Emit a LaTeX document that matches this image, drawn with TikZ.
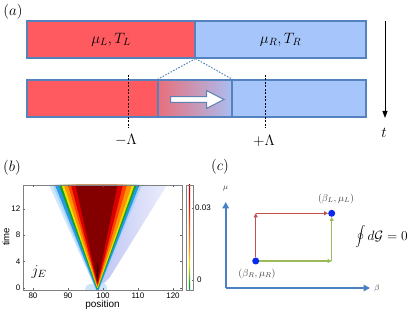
\RequirePackage{fix-cm}
\documentclass[tikz,border=0pt]{standalone}
\usepackage{fontspec}
\newfontfamily\hv{Liberation Sans}
\usetikzlibrary{arrows.meta}
\definecolor{barred}{HTML}{FF5A60}
\definecolor{barblue}{HTML}{A6C5FA}
\definecolor{barline}{HTML}{5482BE}
\definecolor{gradL}{HTML}{E8707C}
\definecolor{gradR}{HTML}{A9BDF0}
\definecolor{axblue}{HTML}{4A80C4}
\definecolor{pred}{HTML}{C0504D}
\definecolor{pgreen}{HTML}{9BBB59}
\definecolor{dotblue}{HTML}{0A2AF0}
\definecolor{jA}{HTML}{2828F0}
\definecolor{jB}{HTML}{C4CAF8}
\definecolor{jC}{HTML}{FFFFFF}
\definecolor{jD}{HTML}{A8D4F8}
\definecolor{jE}{HTML}{2A98E4}
\definecolor{jF}{HTML}{10A028}
\definecolor{jG}{HTML}{ECE000}
\definecolor{jH}{HTML}{FF9200}
\definecolor{jI}{HTML}{FF4200}
\definecolor{jJ}{HTML}{D80000}
\definecolor{jK}{HTML}{840000}
\definecolor{jL}{HTML}{200000}
\definecolor{lav}{HTML}{BFC6F4}
\pgfdeclareverticalshading{jetbar}{8pt}{color(0pt)=(jA); color(5pt)=(jB); color(9pt)=(jC); color(13pt)=(jD); color(20pt)=(jE); color(30pt)=(jF); color(40pt)=(jG); color(47pt)=(jH); color(60pt)=(jI); color(72pt)=(jJ); color(86pt)=(jK); color(105pt)=(jL)}
\tikzset{
  bar/.style={draw=barline, line width=1.1pt, inner sep=0pt, minimum height=37pt, font=\fontsize{15}{17}\selectfont},
  big/.style={font=\fontsize{15}{17}\selectfont, inner sep=0pt},
  tick/.style={font=\hv\fontsize{8}{9}\selectfont, inner sep=0pt},
  vdash/.style={black, line width=0.8pt, dash pattern=on 2pt off 1.5pt},
  axisc/.style={axblue, line width=1.8pt, -{Triangle[length=6.5pt,width=6.5pt]}},
  pathr/.style={pred, line width=1.3pt, -{Triangle[length=4pt,width=4pt]}},
  pathg/.style={pgreen, line width=1.3pt, -{Triangle[length=4pt,width=4pt]}},
  pdot/.style={circle, fill=dotblue, inner sep=0pt, minimum size=7pt},
  small/.style={font=\fontsize{10}{12}\selectfont, text=black!75, inner sep=0pt}
}
\begin{document}
\begin{tikzpicture}[x=1pt,y=-1pt]
\useasboundingbox (0,0) rectangle (415,312);
% ---------- panel (a)
\node[big] (la) at (13,12) {$(a)$};
\node[bar, fill=barred, minimum width=168pt] (tl) at (111,39.5) {$\mu_L,T_L$};
\node[bar, fill=barblue, minimum width=171pt] (tr) at (280.5,39.5) {$\mu_R,T_R$};
\node[bar, fill=barred, minimum width=131pt] (bl) at (92.5,98.5) {};
\node[bar, fill=barblue, minimum width=134pt] (br) at (299,98.5) {};
\node[bar, left color=gradL, right color=gradR, minimum width=74pt] (bm) at (195,98.5) {};
\draw[barline, line width=1pt, dash pattern=on 1.5pt off 1.5pt] (tl.south east) -- (bm.north west);
\draw[barline, line width=1pt, dash pattern=on 1.5pt off 1.5pt] (tl.south east) -- (bm.north east);
\draw[fill=white, draw=barline!80!gray, line width=1pt, line join=miter]
  (170.7,96.7) -- (206.7,96.7) -- (206.7,90.7) -- (224,99.5) -- (206.7,108.3) -- (206.7,102.3) -- (170.7,102.3) -- cycle;
\coordinate (dlt) at (128,75);
\coordinate (dlb) at (128,128);
\coordinate (drt) at (265,75);
\coordinate (drb) at (265,128);
\draw[vdash] (dlt) -- (dlb);
\draw[vdash] (drt) -- (drb);
\node[big] (lm) at (126,140) {$-\Lambda$};
\node[big] (lp) at (264,141) {$+\Lambda$};
\coordinate (ts) at (385,21);
\coordinate (te) at (385,118);
\draw[line width=1pt, -{Triangle[length=7pt,width=5pt]}] (ts) -- (te);
\node[big] (lt) at (384,133) {$t$};
% ---------- panel (b)
\node[big] (lb) at (12,168) {$(b)$};
\begin{scope}
\clip (23,185) rectangle (182,290);
\shade[left color=lav, right color=lav!30] (100,287) -- (141,185) -- (167,185) -- (110,277) -- cycle;
\fill[jD!55] (96,290) -- (49,185) -- (58,185) -- (98,290) -- cycle;
\fill[jD!60] (91,289) ellipse [x radius=6pt, y radius=5pt];
\fill[jD!60] (103,288) ellipse [x radius=4pt, y radius=5pt];
\fill[jD] (96,290) -- (52.5,185) -- (142,185) -- (99,290) -- cycle;
\fill[jE] (96.5,290) -- (55,185) -- (139.5,185) -- (98.5,290) -- cycle;
\fill[jF] (97,289) -- (59,185) -- (136.5,185) -- (98,289) -- cycle;
\fill[jG] (97.2,288) -- (61.5,185) -- (134.5,185) -- (97.8,288) -- cycle;
\fill[jH] (97.4,287) -- (64,185) -- (132,185) -- (97.6,287) -- cycle;
\fill[jI] (97.5,286) -- (68,185) -- (127,185) -- cycle;
\fill[jJ] (97.5,285) -- (71,185) -- (123,185) -- cycle;
\fill[jK] (97.5,283) -- (75.5,185) -- (117.5,185) -- cycle;
\fill[jL!70!jK] (97,262) -- (96.5,276) -- (98,280) -- (98.5,268) -- cycle;
\end{scope}
\node[draw=gray, line width=0.6pt, minimum width=159pt, minimum height=105pt, inner sep=0pt] (plot) at (102.5,237.5) {};
\foreach \p in {80,90,100,110,120} {
  \draw[gray!80!black, line width=0.5pt] ({33+(\p-80)*3.5},290) -- ++(0,-2);
  \draw[gray!80!black, line width=0.5pt] ({33+(\p-80)*3.5},185) -- ++(0,2);
  \node[tick] at ({33+(\p-80)*3.5},296) {\p};
}
\foreach \t in {0,4,8,12} {
  \draw[gray!80!black, line width=0.5pt] (23,{288-6.6*\t}) -- ++(2,0);
  \draw[gray!80!black, line width=0.5pt] (182,{288-6.6*\t}) -- ++(-2,0);
  \node[tick, anchor=east] at (20.5,{288-6.6*\t}) {\t};
}
\node[font=\hv\fontsize{10}{12}\selectfont, inner sep=0pt] (xl) at (102.5,305) {position};
\node[font=\hv\fontsize{9.5}{11}\selectfont, inner sep=0pt, rotate=90] (yl) at (6,237) {time};
\node[big] (je) at (39,272) {$j_E$};
\shade[shading=jetbar] (186,185) rectangle (193,290);
\node[draw=gray, line width=0.6pt, minimum width=7pt, minimum height=105pt, inner sep=0pt] (cbar) at (189.5,237.5) {};
\draw[gray!80!black, line width=0.5pt] (193,208) -- ++(-1.5,0) (193,280) -- ++(-1.5,0);
\node[tick, anchor=west] (c1) at (195,208) {0.03};
\node[tick, anchor=west] (c0) at (197,280) {0};
% ---------- panel (c)
\node[big] (lc) at (220,167) {$(c)$};
\coordinate (O) at (225.7,288);
\coordinate (Ytop) at (225.7,202);
\coordinate (Xend) at (370,288);
\draw[axisc] (O) -- (Ytop);
\draw[axisc] (O) -- (Xend);
\node[small, font=\fontsize{8}{9}\selectfont] (mu) at (225.7,188.5) {$\mu$};
\node[small, font=\fontsize{8}{9}\selectfont] (be) at (377,288.5) {$\beta$};
\coordinate (TL) at (255.7,213.3);
\coordinate (BR) at (331.7,261);
\node[pdot] (R) at (255.7,261) {};
\node[pdot] (L) at (331.7,213.3) {};
\draw[pathr] (R) -- (TL);
\draw[pathr] (TL) -- (L);
\draw[pathg] (R) -- (BR);
\draw[pathg] (BR) -- (L);
\node[small] (lL) at (336,199) {$(\beta_L,\mu_L)$};
\node[small] (lR) at (257,274) {$(\beta_R,\mu_R)$};
\node[font=\fontsize{13.5}{15}\selectfont, inner sep=0pt] (oint) at (381.5,237) {$\displaystyle\oint d\mathcal{G}=0$};
\end{tikzpicture}
\end{document}
